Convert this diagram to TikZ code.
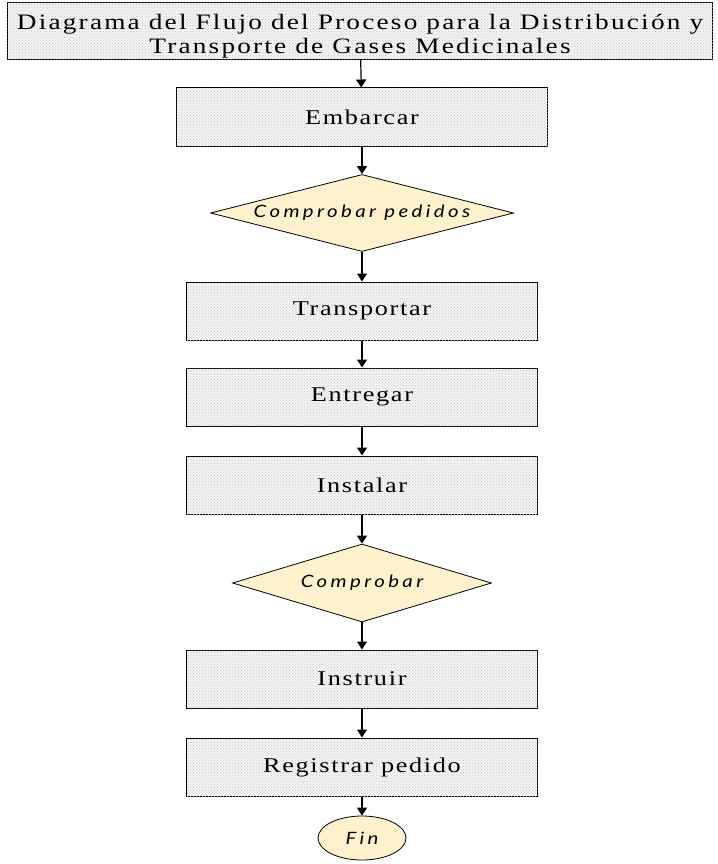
\documentclass[tikz,border=0pt]{standalone}
\usepackage{fontspec}
\setmainfont{Liberation Serif}
\newfontfamily\diafont[LetterSpace=20,FakeStretch=1.2]{Lato Italic}
\newfontfamily\boxfont[LetterSpace=8,FakeStretch=1.25]{Liberation Serif}
\newfontfamily\titlefont[LetterSpace=10,FakeStretch=1.24]{Liberation Serif}
\usetikzlibrary{shapes.geometric,arrows.meta,patterns}
\definecolor{boxfill}{RGB}{244,244,244}
\definecolor{diafill}{RGB}{255,241,205}
\tikzset{
  stepbox/.style={draw, line width=1pt, fill=boxfill, postaction={pattern=crosshatch dots, pattern color=gray!45},
    minimum width=351pt, minimum height=58pt, inner sep=0pt, font=\boxfont\fontsize{21}{23}\selectfont},
  titlebox/.style={stepbox, minimum width=705pt, minimum height=57pt, align=center,
    font=\titlefont\fontsize{22}{24}\selectfont},
  decision/.style={diamond, draw, line width=0.8pt, fill=diafill, inner sep=0pt, aspect=3.9,
    font=\diafont\fontsize{17}{19}\selectfont},
  endnode/.style={ellipse, draw, line width=0.8pt, fill=diafill, minimum width=88pt, minimum height=44pt,
    inner sep=0pt, font=\diafont\fontsize{17}{19}\selectfont},
  flow/.style={-{Triangle[length=8pt,width=10pt]}, line width=1.2pt}
}
\begin{document}
\begin{tikzpicture}[x=1pt,y=-1pt]
\useasboundingbox (0,0) rectangle (717,864);
\node[titlebox] (title) at (360,31) {\rule{0pt}{26pt}Diagrama del Flujo del Proceso para la Distribución y\\Transporte de Gases Medicinales};
\node[stepbox, minimum width=371pt] (emb) at (362,117) {Embarcar};
\node[decision, minimum width=303pt, minimum height=77pt] (chk1) at (362,213) {Comprobar pedidos};
\node[stepbox] (trans) at (362,311) {Transportar};
\node[stepbox] (entr) at (362,397) {Entregar};
\node[stepbox] (inst) at (362,485) {Instalar};
\node[decision, minimum width=259pt, minimum height=78pt] (chk2) at (362,583) {Comprobar};
\node[stepbox] (instr) at (362,679) {Instruir};
\node[stepbox] (reg) at (362,767) {Registrar pedido};
\node[endnode] (fin) at (362,838) {Fin};
\draw[flow] (title) -- (emb);
\draw[flow] (emb) -- (chk1);
\draw[flow] (chk1) -- (trans);
\draw[flow] (trans) -- (entr);
\draw[flow] (entr) -- (inst);
\draw[flow] (inst) -- (chk2);
\draw[flow] (chk2) -- (instr);
\draw[flow] (instr) -- (reg);
\draw[flow] (reg) -- (fin);
\end{tikzpicture}
\end{document}
